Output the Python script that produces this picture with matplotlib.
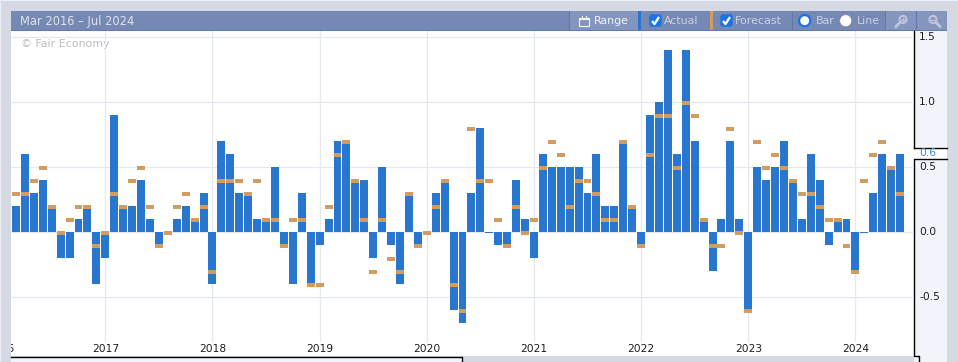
import numpy as np
import matplotlib
matplotlib.use("Agg")
import matplotlib.pyplot as plt
from matplotlib.patches import Rectangle, Circle, FancyBboxPatch
from matplotlib.transforms import Bbox, ScaledTranslation

# Monthly values, Mar 2016 to Jun 2024
actual = [
    0.2, 0.6, 0.3, 0.4, 0.2, -0.2, -0.2, 0.1, 0.2, -0.4,
    -0.2, 0.9, 0.2, 0.2, 0.4, 0.1, -0.1, 0.0, 0.1, 0.2, 0.1, 0.3,
    -0.4, 0.7, 0.6, 0.3, 0.3, 0.1, 0.1, 0.5, -0.1, -0.4, 0.3, -0.4,
    -0.1, 0.1, 0.7, 0.7, 0.4, 0.4, -0.2, 0.5, -0.1, -0.4, 0.3, -0.1,
    0.0, 0.3, 0.4, -0.6, -0.7, 0.3, 0.8, 0.0, -0.1, -0.1, 0.4, 0.1,
    -0.2, 0.6, 0.5, 0.5, 0.5, 0.5, 0.3, 0.6, 0.2, 0.2, 0.7, 0.2,
    -0.1, 0.9, 1.0, 1.4, 0.6, 1.4, 0.7, 0.1, -0.3, 0.1, 0.7, 0.1,
    -0.6, 0.5, 0.4, 0.5, 0.7, 0.4, 0.1, 0.6, 0.4, -0.1, 0.1, 0.1,
    -0.3, 0.0, 0.3, 0.6, 0.5, 0.6,
]
forecast = [
    0.3, 0.3, 0.4, 0.5, 0.2, 0.0, 0.1, 0.2, 0.2, -0.1,
    0.0, 0.3, 0.2, 0.4, 0.5, 0.2, -0.1, 0.0, 0.2, 0.3, 0.1, 0.2,
    -0.3, 0.4, 0.4, 0.4, 0.3, 0.4, 0.1, 0.1, -0.1, 0.1, 0.1, -0.4,
    -0.4, 0.2, 0.6, 0.7, 0.4, 0.1, -0.3, 0.1, -0.2, -0.3, 0.3, -0.1,
    0.0, 0.2, 0.4, -0.4, -0.6, 0.8, 0.4, 0.4, 0.1, -0.1, 0.2, 0.0,
    0.1, 0.5, 0.7, 0.6, 0.2, 0.4, 0.4, 0.3, 0.1, 0.1, 0.7, 0.2,
    -0.1, 0.6, 0.9, 0.9, 0.5, 1.0, 0.9, 0.1, -0.1, -0.1, 0.8, 0.0,
    -0.6, 0.7, 0.5, 0.6, 0.5, 0.4, 0.3, 0.3, 0.2, 0.1, 0.1, -0.1,
    -0.3, 0.4, 0.6, 0.7, 0.5, 0.3,
]
years = [2017, 2018, 2019, 2020, 2021, 2022, 2023, 2024]
year_months = [10, 22, 34, 46, 58, 70, 82, 94]
y_ticks = [-0.5, 0.0, 0.5, 1.0, 1.5]
y_labels = ["-0.5", "0.0", "0.5", "1.0", "1.5"]

BLUE = "#2976cf"
ORANGE = "#d29b5f"
GRAY = "#d5d9e3"
PANEL = "#f3f4f9"
BAR_BG = "#7688b4"
BTN_BG = "#8596be"
LINE = "#5f79b0"
GRID = "#e6e8f0"
PX = 1 / 130  # one pixel in y units

fig = plt.figure(figsize=(9.58, 3.62), dpi=100, facecolor=GRAY)

# page chrome, drawn in pixel coordinates
bg = fig.add_axes([0, 0, 1, 1], zorder=0)
bg.set_xlim(0, 958)
bg.set_ylim(362, 0)
bg.axis("off")


def box(x0, y0, x1, y1, color, **kw):
    bg.add_patch(Rectangle((x0, y0), x1 - x0, y1 - y0, fc=color, ec="none", **kw))


box(0, 0, 958, 1, "#eceef3")
box(0, 0, 1, 362, "#eceef3")
box(11, 31, 914, 356, "white")
box(914, 31, 947, 362, PANEL)
box(11, 357, 462, 362, PANEL)
box(914, 147, 947, 159, "white")
box(919, 356, 947, 362, PANEL)

# black outline of the panels
bg.plot([914.5, 914.5], [31, 147.5], color="black", lw=1)
bg.plot([914.5, 947], [147.5, 147.5], color="black", lw=1)
bg.plot([947, 914.5, 914.5, 919.5, 919.5], [158.5, 158.5, 355.5, 355.5, 362], color="black", lw=1)
bg.plot([11, 462.5, 462.5], [356.5, 356.5, 362], color="black", lw=1)

# toolbar
box(11, 11, 947, 30, BAR_BG)
box(569, 11, 638, 30, BTN_BG)
box(885, 11, 947, 30, BTN_BG)
box(11, 30, 947, 31, LINE)
for x in [569, 792, 885, 916]:
    box(x, 11, x + 1, 30, LINE)
box(638, 11, 641, 30, BLUE)
box(710, 11, 713, 30, ORANGE)

bg.text(20, 21, "Mar 2016 – Jul 2024", fontsize=8.3, color="#dde2ee", va="center")
bg.text(594, 21, "Range", fontsize=7.9, color="#f2f4f9", va="center")
bg.text(664, 21, "Actual", fontsize=7.9, color="#c9d1e4", va="center")
bg.text(735, 21, "Forecast", fontsize=7.9, color="#c9d1e4", va="center")
bg.text(816, 21, "Bar", fontsize=7.9, color="#c9d1e4", va="center")
bg.text(857, 21, "Line", fontsize=7.9, color="#c9d1e4", va="center")

# calendar icon
bg.add_patch(Rectangle((579.5, 18), 10, 7.5, fc="none", ec="#f2f4f9", lw=0.8))
box(580, 18, 589, 20, "#f2f4f9")
box(582, 16, 583, 18, "#f2f4f9")
box(586, 16, 587, 18, "#f2f4f9")

# check boxes
for x in [649, 720]:
    bg.add_patch(FancyBboxPatch((x + 1, 15), 11, 11, boxstyle="round,pad=0,rounding_size=2",
                                fc="#1a73e8", ec="#1a73e8", lw=1))
    bg.plot([x + 3, x + 5.5, x + 10], [21, 24, 17], color="white", lw=1.7, solid_capstyle="butt")

# radio buttons
bg.add_patch(Circle((804.7, 20.7), 5.6, fc="white", ec="#1a73e8", lw=1.6))
bg.add_patch(Circle((845.7, 20.7), 6, fc="white", ec="#8a8a8a", lw=0.5))

# magnifier icons
for x, plus in [(902, True), (932, False)]:
    bg.add_patch(Circle((x + 1, 19.5), 3.6, fc="none", ec="#bcc7de", lw=1.4))
    if plus:
        bg.plot([x - 2, x - 6], [22.5, 26.5], color="#bcc7de", lw=2)
        bg.plot([x + 1, x + 1], [17.5, 21.5], color="#bcc7de", lw=1)
    else:
        bg.plot([x + 4, x + 8], [22.5, 26.5], color="#bcc7de", lw=2)
    bg.plot([x - 1, x + 3], [19.5, 19.5], color="#bcc7de", lw=1)

bg.text(21, 44, "© Fair Economy", fontsize=7.9, color="#bcbcbc", va="center")
bg.text(919, 153, "0.6", fontsize=7.7, color="#3f86de", va="center")

# the chart itself
ax = fig.add_axes([11 / 958, 1 - 342 / 362, 903 / 958, 311 / 362], zorder=1)
ax.patch.set_alpha(0)
for s in ax.spines.values():
    s.set_visible(False)

months = np.arange(len(actual))
a = np.array(actual)
f = np.array(forecast)

ax.bar(months, np.where(a == 0, -PX, a), width=0.89, color=BLUE, zorder=2)
ax.bar(months, 4 * PX, bottom=f - 3 * PX, width=0.89, color=ORANGE, zorder=3)

ax.set_xlim(-0.56, 100.56)
ax.set_ylim((231.6 - 342) / 130, (231.6 - 31) / 130)
ax.set_xticks(year_months)
ax.set_xticklabels(years)
ax.set_yticks(y_ticks)
ax.set_yticklabels(y_labels)
ax.yaxis.tick_right()
ax.tick_params(axis="both", length=0, labelsize=7.7, colors="#1c1c1c")
ax.tick_params(axis="x", pad=1.6)
ax.tick_params(axis="y", pad=3.6)
ax.grid(True, color=GRID, lw=0.9)
ax.set_axisbelow(True)

up = ScaledTranslation(0, 1 / 100, fig.dpi_scale_trans)
for lab in ax.get_yticklabels():
    lab.set_transform(lab.get_transform() + up)

# the 2016 label is cut off by the left edge of the plot
t = ax.text(-1.7, -0.9, "2016", fontsize=7.7, color="#1c1c1c", ha="center", va="center")
t.set_clip_path(None)
t.set_clip_box(Bbox([[11, 0], [958, 362]]))
t.set_clip_on(True)

fig.savefig("out.png", dpi=100, facecolor=fig.get_facecolor())
